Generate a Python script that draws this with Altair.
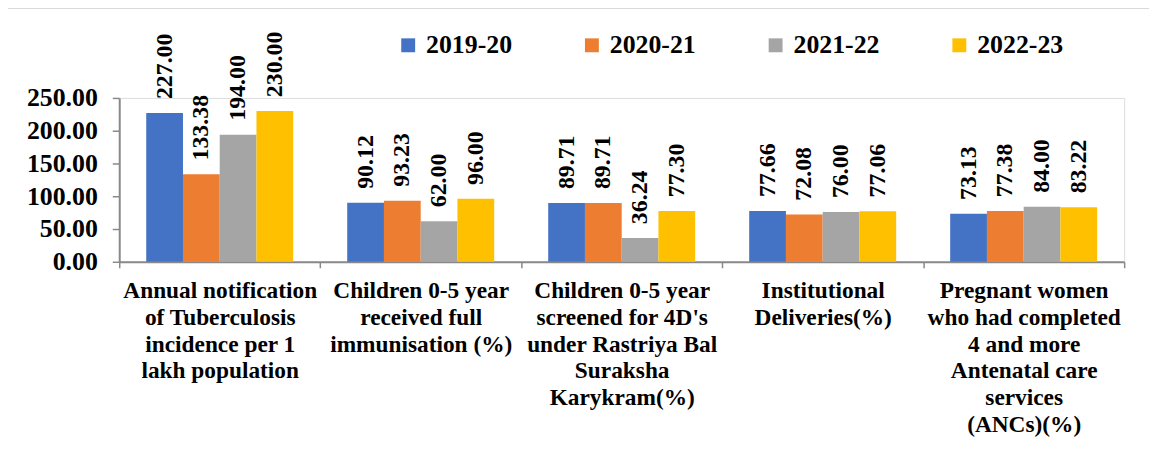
import altair as alt
import pandas as pd

categories = [
    "Annual notification|of Tuberculosis|incidence per 1|lakh population",
    "Children 0-5 year|received full|immunisation (%)",
    "Children 0-5 year|screened for 4D's|under Rastriya Bal|Suraksha|Karykram(%)",
    "Institutional|Deliveries(%)",
    "Pregnant women|who had completed|4 and more|Antenatal care|services|(ANCs)(%)",
]
years = ["2019-20", "2020-21", "2021-22", "2022-23"]
v2019 = [227.00, 90.12, 89.71, 77.66, 73.13]
v2020 = [133.38, 93.23, 89.71, 72.08, 77.38]
v2021 = [194.00, 62.00, 36.24, 76.00, 84.00]
v2022 = [230.00, 96.00, 77.30, 77.06, 83.22]
colors = ["#4472C4", "#ED7D31", "#A5A5A5", "#FFC000"]
y_ticks = [0, 50, 100, 150, 200, 250]

rows = []
for yr, vals in zip(years, [v2019, v2020, v2021, v2022]):
    for c, v in zip(categories, vals):
        rows.append({"cat": c, "year": yr, "value": v})
df = pd.DataFrame(rows)

FONT = "Liberation Serif"

x_enc = alt.X(
    "cat:N",
    sort=categories,
    title=None,
    scale=alt.Scale(paddingInner=0, paddingOuter=0),
    axis=alt.Axis(
        labelExpr="split(datum.label, '|')",
        labelAngle=0,
        tickBand="extent",
        labelFont=FONT,
        labelFontWeight="bold",
        labelFontSize=23.5,
        labelLineHeight=27,
        labelColor="black",
        labelLimit=0,
        labelPadding=11,
        labelBaseline="top",
        labelOverlap=False,
        tickSize=6,
        tickColor="#898989",
        tickWidth=1.5,
        domainColor="#898989",
        domainWidth=2,
        grid=False,
    ),
)
xoff_enc = alt.XOffset(
    "year:N", sort=years, scale=alt.Scale(paddingInner=0, paddingOuter=0.735)
)
y_enc = alt.Y(
    "value:Q",
    title=None,
    scale=alt.Scale(domain=[0, 250], nice=False),
    axis=alt.Axis(
        values=y_ticks,
        format=".2f",
        grid=False,
        labelFont=FONT,
        labelFontWeight="bold",
        labelFontSize=26,
        labelColor="black",
        labelPadding=15,
        labelOverlap=False,
        labelBound=False,
        tickSize=7,
        tickColor="#898989",
        tickWidth=1.5,
        domainColor="#898989",
        domainWidth=2,
    ),
)

base = alt.Chart(df)

bars = base.mark_bar().encode(
    x=x_enc,
    xOffset=xoff_enc,
    y=y_enc,
    color=alt.Color(
        "year:N",
        sort=years,
        scale=alt.Scale(domain=years, range=colors),
        legend=alt.Legend(
            title=None,
            orient="none",
            direction="horizontal",
            legendX=278,
            legendY=-66,
            symbolType="square",
            symbolSize=196,
            symbolStrokeWidth=0,
            symbolOpacity=1,
            labelFont=FONT,
            labelFontWeight="bold",
            labelFontSize=26,
            labelColor="black",
            labelOffset=5,
            columnPadding=67,
        ),
    ),
)

labels = base.mark_text(
    angle=270,
    align="left",
    baseline="middle",
    dx=14,
    font=FONT,
    fontWeight="bold",
    fontSize=24,
    color="black",
).encode(
    x=x_enc,
    xOffset=xoff_enc,
    y=y_enc,
    text=alt.Text("value:Q", format=".2f"),
)

border = alt.Chart(alt.Data(values=[{}])).mark_rect(
    fill=None, stroke="#B4B4B4", strokeWidth=2
).encode(
    x=alt.value(-114), x2=alt.value(1300), y=alt.value(-91), y2=alt.value(700)
)

chart = (
    alt.layer(border, bars, labels)
    .properties(
        width=1012,
        height=165,
        autosize=alt.AutoSizeParams(type="none"),
        padding={"left": 112, "top": 89, "right": 25, "bottom": 192},
    )
    .configure_view(stroke=None)
    .configure_axis(labelOverlap=False)
    .configure(background="white")
)

chart.save("out.html", embed_options={"renderer": "svg", "actions": False})
